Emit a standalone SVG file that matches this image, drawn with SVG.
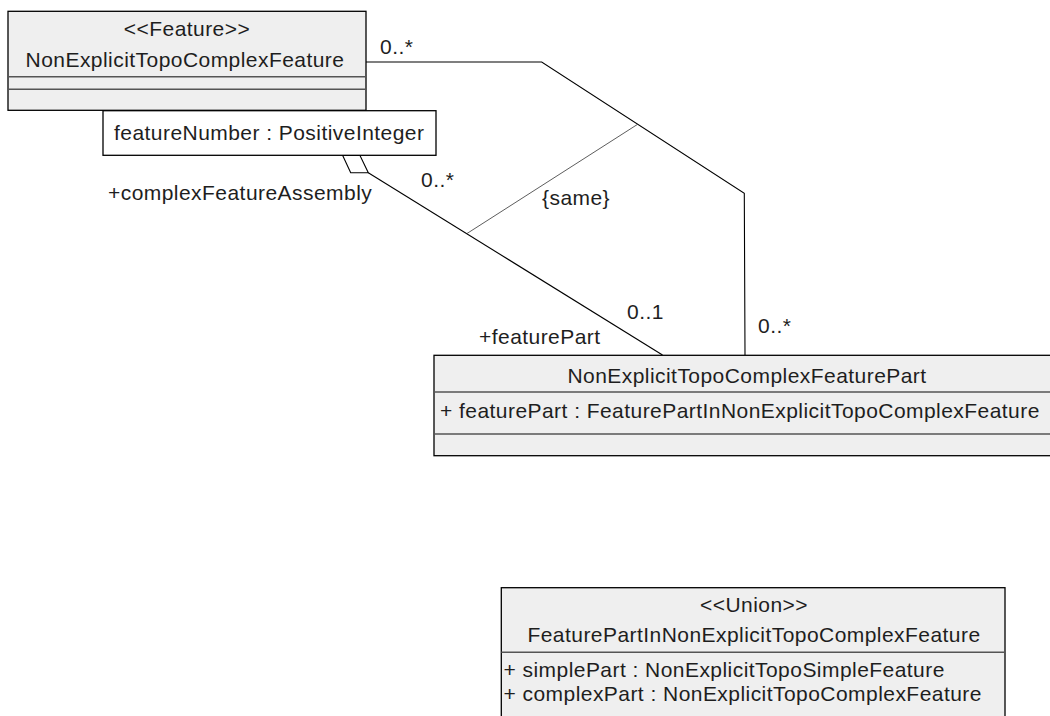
<svg xmlns="http://www.w3.org/2000/svg" width="1050" height="716" viewBox="0 0 1050 716">
  <style>
    text { font-family: "Liberation Sans", Arial, sans-serif; font-size: 21px; fill: #1e1e1e; letter-spacing: 0.45px; }
    .mid { text-anchor: middle; }
    .cls { fill: #efefef; stroke: #000; stroke-width: 1.3; }
    .note { fill: #fff; stroke: #000; stroke-width: 1.3; }
    .div { stroke: #555; stroke-width: 1.6; fill: none; }
    .conn { fill: none; stroke: #000; stroke-width: 1.1; }
    .dia { fill: #fff; stroke: #000; stroke-width: 1.1; }
    .cons { fill: none; stroke: #333; stroke-width: 0.8; }
  </style>
  <rect width="1050" height="716" fill="#fff"/>

  <g id="connectors">
    <polyline class="conn" points="366,62 541.7,62 744.3,193.3 745,355"/>
    <polyline class="conn" points="368.3,172.7 662.5,355"/>
    <polygon class="dia" points="342.7,155.5 360,155.5 368.3,172.7 350.7,172.7"/>
    <line class="cons" x1="467" y1="233.5" x2="637.3" y2="124.5"/>
    <text x="380" y="54">0..*</text>
    <text x="421" y="187">0..*</text>
    <text x="108" y="200">+complexFeatureAssembly</text>
    <text x="542" y="205">{same}</text>
    <text x="627" y="319">0..1</text>
    <text x="479" y="344">+featurePart</text>
    <text x="758" y="333">0..*</text>
  </g>

  <g id="NonExplicitTopoComplexFeature">
    <rect class="cls" x="8" y="11.3" width="358" height="99"/>
    <line class="div" x1="8" y1="76.7" x2="366" y2="76.7"/>
    <line class="div" x1="8" y1="89.3" x2="366" y2="89.3"/>
    <text class="mid" x="187" y="36">&lt;&lt;Feature&gt;&gt;</text>
    <text class="mid" x="185" y="66.5">NonExplicitTopoComplexFeature</text>
  </g>

  <g id="featureNumber">
    <rect class="note" x="103" y="110.7" width="333" height="44.6"/>
    <text x="114" y="139.5">featureNumber : PositiveInteger</text>
  </g>

  <g id="NonExplicitTopoComplexFeaturePart">
    <rect class="cls" x="434" y="355.3" width="626" height="100.4"/>
    <line class="div" x1="434" y1="392" x2="1060" y2="392"/>
    <line class="div" x1="434" y1="434" x2="1060" y2="434"/>
    <text class="mid" x="747" y="382.5">NonExplicitTopoComplexFeaturePart</text>
    <text x="440" y="418.3">+ featurePart : FeaturePartInNonExplicitTopoComplexFeature</text>
  </g>

  <g id="FeaturePartInNonExplicitTopoComplexFeature">
    <rect class="cls" x="501.3" y="587.7" width="503.7" height="140"/>
    <line class="div" x1="501.3" y1="652.3" x2="1005" y2="652.3"/>
    <text class="mid" x="754" y="611.7">&lt;&lt;Union&gt;&gt;</text>
    <text class="mid" x="754" y="641.7">FeaturePartInNonExplicitTopoComplexFeature</text>
    <text x="503.5" y="676.7">+ simplePart : NonExplicitTopoSimpleFeature</text>
    <text x="503.5" y="701">+ complexPart : NonExplicitTopoComplexFeature</text>
  </g>
</svg>
